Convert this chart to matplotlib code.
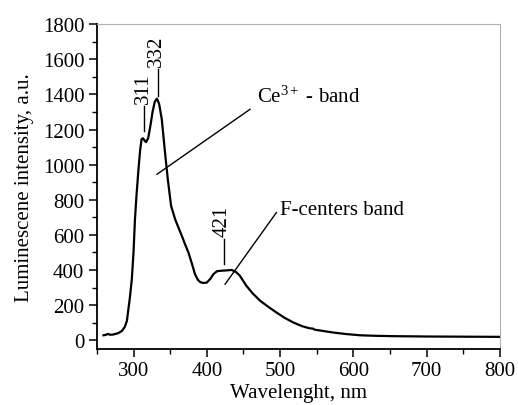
import matplotlib
matplotlib.use("Agg")
import matplotlib.pyplot as plt
from matplotlib.ticker import MultipleLocator

plt.rcParams['font.family'] = ['Liberation Serif', 'DejaVu Serif']
plt.rcParams['mathtext.fontset'] = 'custom'
plt.rcParams['mathtext.rm'] = 'Liberation Serif'
plt.rcParams['mathtext.it'] = 'Liberation Serif:italic'
plt.rcParams['mathtext.bf'] = 'Liberation Serif:bold'

wavelength = [259, 262, 265, 268, 272, 279, 284, 288, 291, 293, 295, 297.7, 300, 302, 304, 306.8,
              309, 311, 313, 315, 317, 320, 323, 326, 329, 332, 335, 338.6, 343, 346.8,
              351.3, 356.8, 361, 366, 370, 375, 380, 384, 388, 391, 395, 400, 405, 409, 414,
              421, 428, 434, 440, 445, 454, 463, 473, 484, 495, 506, 518, 530, 540, 545,
              547, 555, 572, 590, 609, 630, 654, 700, 750, 800]
intensity = [28, 30, 36, 31, 32, 40, 52, 75, 110, 176, 240, 347, 500, 689, 820, 974,
             1080, 1145, 1150, 1138, 1128, 1150, 1220, 1300, 1358, 1376, 1345, 1258, 1069, 917,
             765, 689, 645, 594, 550, 499, 432, 375, 343, 331, 326, 328, 350, 376, 393,
             396, 398, 400, 388, 368, 310, 265, 224, 190, 158, 128, 101, 80, 68, 66,
             60, 55, 44, 35, 28, 25, 23, 21, 20, 19]

peak_labels = ['311', '332', '421']
peak_x = [315, 333, 423]
band_labels = [r'Ce$^{3+}$ - band', 'F-centers band']

fig = plt.figure(figsize=(5.18, 4.06), dpi=100)
ax = fig.add_axes([0.187, 0.138, 0.778, 0.8])

ax.plot(wavelength, intensity, color='black', lw=1.6)

ax.set_xlim(250, 800)
ax.set_ylim(-50, 1800)
ax.xaxis.set_major_locator(MultipleLocator(100))
ax.xaxis.set_minor_locator(MultipleLocator(50))
ax.yaxis.set_major_locator(MultipleLocator(200))
ax.yaxis.set_minor_locator(MultipleLocator(100))
ax.set_xticks(range(300, 801, 100))

fs = 15
ax.tick_params(axis='both', which='major', direction='out', length=6, width=1.1,
               labelsize=fs, top=False, right=False, pad=3)
ax.tick_params(axis='both', which='minor', direction='out', length=3.5, width=1.0,
               top=False, right=False)
for s in ['left', 'bottom']:
    ax.spines[s].set_linewidth(1.3)
for s in ['top', 'right']:
    ax.spines[s].set_color('#b0b0b0')
    ax.spines[s].set_linewidth(0.8)

ax.set_xlabel('Wavelenght, nm', fontsize=fs, labelpad=2)
ax.set_ylabel('Luminescene intensity, a.u.', fontsize=fs, labelpad=6)

# peak markers
line_ranges = [(1190, 1333), (1391, 1543), (433, 575)]
for lab, x, (y0, y1) in zip(peak_labels, peak_x, line_ranges):
    ax.plot([x, x], [y0, y1], color='black', lw=1.0)
    ax.text(x - 1.5, y1 + 20, lab, rotation=90, ha='center', va='bottom', fontsize=fs)

# band pointers
ax.plot([332, 459], [945, 1315], color='black', lw=1.0)
ax.text(468, 1360, band_labels[0], fontsize=fs, ha='left', va='baseline')
ax.plot([425, 495], [319, 727], color='black', lw=1.0)
ax.text(500, 717, band_labels[1], fontsize=fs, ha='left', va='baseline')

fig.savefig('out.png', dpi=100)
